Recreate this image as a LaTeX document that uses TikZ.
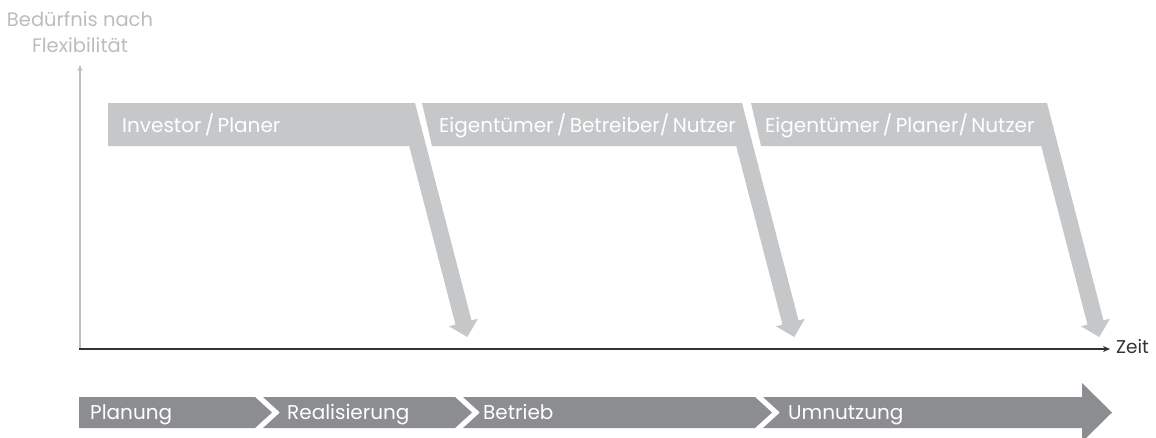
\documentclass[tikz,border=0pt]{standalone}
\usepackage{fontspec}
\setmainfont{Poppins}
\usetikzlibrary{arrows.meta}

\definecolor{rolegray}{HTML}{C6C7C9}
\definecolor{phasegray}{HTML}{8C8D90}
\definecolor{axisgray}{HTML}{BDBDBD}
\definecolor{labelgray}{HTML}{BCBCBC}
\definecolor{axisdark}{HTML}{333333}

% role banner with a slanted arrow dropping onto the time axis
% #1 x of the shaft's right edge at the top, #2/#3 x of the banner's left edge at top/bottom
\newcommand\rolebanner[3]{%
  \fill[rolegray] (#2,103) -- (#1,103) -- ({#1+56.5},320.4) -- ({#1+63},318.7)
    -- ({#1+52.3},337) -- ({#1+34},326.3) -- ({#1+40.5},324.6)
    -- ({#1-5.8},146) -- (#3,146) -- cycle;}

\tikzset{
  roletext/.style={anchor=base west, inner sep=0pt, text=white,
    font=\fontsize{20}{24}\selectfont},
  phasetext/.style={anchor=base west, inner sep=0pt, text=white,
    font=\fontsize{20}{24}\selectfont},
  phase/.style={fill=phasegray},
}

\begin{document}
\begin{tikzpicture}[x=1pt,y=-1pt]
  \useasboundingbox (0,0) rectangle (1156,437);
  \clip (0,0) rectangle (1156,437);

  % axes
  \coordinate (origin) at (79,349);
  \coordinate (ytop) at (80,65);
  \coordinate (xend) at (1110,349);
  \draw[axisgray, line width=1.5pt, -{Stealth[length=6pt,width=5pt]}]
    (80,349) -- (ytop);
  \draw[axisdark, line width=1.6pt, -{Stealth[length=7pt,width=6pt]}]
    (origin) -- (xend);
  \node[anchor=base west, inner sep=0pt, text=axisdark,
    font=\fontsize{18.5}{22}\selectfont] (zeit) at (1116,353) {Zeit};
  \node[anchor=north, inner sep=0pt, align=center, text=labelgray,
    font=\fontsize{19.5}{26}\selectfont] (ylabel) at (80,11)
    {Bedürfnis nach\\Flexibilität};

  % role banners
  \rolebanner{415}{108}{108}
  \rolebanner{742}{422}{432}
  \rolebanner{1047}{751}{761}
  \node[roletext] (r1) at (122,132) {Investor\,/\,Planer};
  \node[roletext] (r2) at (439,132) {Eigentümer\,/\,Betreiber/\,Nutzer};
  \node[roletext] (r3) at (765,132) {Eigentümer\,/\,Planer/\,Nutzer};

  % phase bar
  \fill[phase] (79,397) -- (255,397) -- (272,412.5) -- (255,428) -- (79,428) -- cycle;
  \fill[phase] (263,397) -- (455,397) -- (472,412.5) -- (455,428) -- (263,428) -- (280,412.5) -- cycle;
  \fill[phase] (463,397) -- (755,397) -- (772,412.5) -- (755,428) -- (463,428) -- (480,412.5) -- cycle;
  \fill[phase] (763,397) -- (1082,397) -- (1082,383) -- (1112,412.5) -- (1082,442)
    -- (1082,428) -- (763,428) -- (780,412.5) -- cycle;
  \node[phasetext] (p1) at (90,419) {Planung};
  \node[phasetext] (p2) at (287,419) {Realisierung};
  \node[phasetext] (p3) at (483,419) {Betrieb};
  \node[phasetext] (p4) at (788,419) {Umnutzung};
\end{tikzpicture}
\end{document}
